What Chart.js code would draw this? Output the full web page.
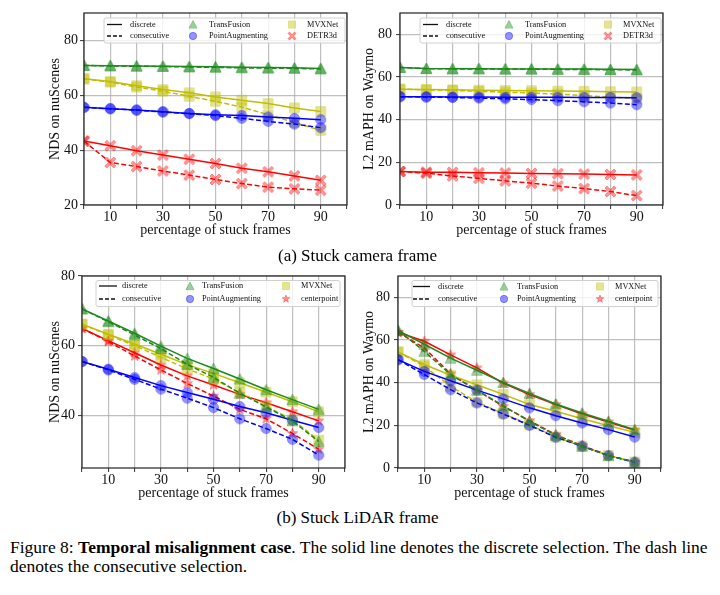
<!DOCTYPE html>
<html>
<head>
<meta charset="utf-8">
<script src="https://cdn.jsdelivr.net/npm/chart.js@4.4.1/dist/chart.umd.min.js"></script>
<style>
body { margin: 0; background: #fff; width: 720px; height: 595px; position: relative; overflow: hidden; font-family: 'Liberation Serif', 'Times New Roman', serif; }
canvas { position: absolute; }
.cap { position: absolute; font-size: 17px; line-height: 19px; color: #000; white-space: nowrap; }
</style>
</head>
<body>
<canvas id="camNus" width="320" height="245" style="left:40px;top:0px"></canvas>
<canvas id="camWaymo" width="320" height="245" style="left:358px;top:0px"></canvas>
<canvas id="lidarNus" width="320" height="246" style="left:38px;top:262px"></canvas>
<canvas id="lidarWaymo" width="320" height="246" style="left:356px;top:262px"></canvas>
<div class="cap" style="left:0;width:715px;text-align:center;top:246px">(a) Stuck camera frame</div>
<div class="cap" style="left:0;width:715px;text-align:center;top:508px">(b) Stuck LiDAR frame</div>
<div class="cap" style="left:10px;top:538px;font-size:17.5px">Figure 8: <b>Temporal misalignment case</b>. The solid line denotes the discrete selection. The dash line<br>denotes the consecutive selection.</div>
<script>
// valeurs
const frames = [0, 10, 20, 30, 40, 50, 60, 70, 80, 90];
const xGridTicks = [0, 10, 20, 30, 40, 50, 60, 70, 80, 90, 100];
const xTickLabels = [10, 30, 50, 70, 90];

// (a) stuck camera frame - NDS nuScenes
const camNusTFDisc = [70.9, 70.8, 70.7, 70.6, 70.5, 70.4, 70.2, 70.1, 70.0, 69.8];
const camNusTFCons = [70.9, 70.7, 70.6, 70.5, 70.3, 70.2, 70.0, 69.9, 69.8, 69.6];
const camNusPADisc = [55.6, 55.1, 54.6, 54.0, 53.4, 52.9, 52.6, 52.1, 51.6, 51.1];
const camNusPACons = [55.6, 55.1, 54.6, 53.9, 53.3, 52.6, 51.6, 50.5, 49.5, 48.2];
const camNusMVXDisc = [66.0, 65.0, 63.5, 62.1, 60.9, 59.4, 58.2, 57.0, 55.4, 54.1];
const camNusMVXCons = [66.0, 64.8, 63.0, 61.5, 59.6, 57.8, 55.7, 52.9, 50.1, 47.2];
const camNusDETRDisc = [43.3, 41.6, 39.8, 38.2, 36.7, 35.1, 33.4, 32.1, 30.6, 29.0];
const camNusDETRCons = [43.3, 35.5, 34.0, 32.4, 30.9, 29.3, 27.8, 26.5, 25.9, 25.4];

// (a) stuck camera frame - L2 mAPH Waymo
const camWayTFDisc = [64.5, 64.0, 63.9, 63.9, 63.8, 63.8, 63.7, 63.7, 63.6, 63.5];
const camWayTFCons = [64.5, 63.9, 63.8, 63.8, 63.7, 63.7, 63.6, 63.5, 63.4, 63.3];
const camWayPADisc = [50.8, 50.7, 50.6, 50.6, 50.5, 50.5, 50.5, 50.4, 50.4, 50.3];
const camWayPACons = [50.8, 50.6, 50.4, 50.1, 49.8, 49.4, 48.9, 48.4, 47.8, 47.0];
const camWayMVXDisc = [54.3, 54.1, 54.0, 53.8, 53.7, 53.6, 53.4, 53.3, 53.1, 53.0];
const camWayMVXCons = [54.3, 54.0, 53.7, 53.3, 52.9, 52.5, 52.0, 51.3, 50.6, 49.8];
const camWayDETRDisc = [15.7, 15.4, 15.3, 15.1, 15.0, 14.8, 14.7, 14.5, 14.3, 14.1];
const camWayDETRCons = [15.7, 14.9, 13.6, 12.5, 11.3, 10.2, 8.9, 7.7, 6.3, 4.4];

// (b) stuck LiDAR frame - NDS nuScenes
const lidNusTFDisc = [70.6, 67.1, 63.6, 59.9, 56.4, 53.5, 50.5, 47.4, 44.6, 41.8];
const lidNusTFCons = [70.6, 66.9, 63.1, 59.2, 54.7, 51.0, 46.4, 42.5, 38.5, 32.6];
const lidNusPADisc = [55.5, 53.3, 50.9, 48.6, 46.6, 44.7, 42.6, 40.8, 38.7, 36.6];
const lidNusPACons = [55.5, 53.1, 50.4, 47.6, 45.0, 42.3, 39.1, 36.3, 33.2, 28.7];
const lidNusMVXDisc = [66.2, 63.3, 60.5, 57.6, 54.6, 52.1, 49.4, 46.7, 44.0, 41.1];
const lidNusMVXCons = [66.2, 63.1, 60.1, 56.7, 53.4, 50.5, 46.6, 42.7, 38.8, 33.0];
const lidNusCPDisc = [65.0, 61.5, 58.0, 54.5, 51.4, 48.8, 46.1, 43.7, 41.1, 38.5];
const lidNusCPCons = [65.0, 61.2, 57.1, 53.1, 49.2, 45.6, 41.8, 39.1, 34.9, 30.4];

// (b) stuck LiDAR frame - L2 mAPH Waymo
const lidWayTFDisc = [64.5, 58.0, 51.5, 45.8, 40.1, 35.0, 30.0, 25.8, 21.9, 18.0];
const lidWayTFCons = [64.5, 54.7, 43.8, 36.4, 29.2, 21.9, 15.3, 10.2, 5.8, 2.8];
const lidWayPADisc = [50.8, 45.3, 40.9, 36.5, 32.4, 28.2, 24.5, 21.1, 18.0, 14.5];
const lidWayPACons = [50.8, 43.8, 36.7, 30.5, 25.3, 20.0, 14.4, 10.2, 5.8, 2.7];
const lidWayMVXDisc = [54.4, 48.5, 43.5, 39.0, 34.5, 29.8, 26.6, 23.1, 19.8, 16.7];
const lidWayMVXCons = [54.4, 47.7, 38.3, 30.9, 25.5, 20.3, 14.5, 10.2, 5.9, 2.8];
const lidWayCPDisc = [63.6, 59.4, 53.0, 46.9, 39.8, 34.4, 29.7, 25.3, 21.6, 17.7];
const lidWayCPCons = [63.6, 56.3, 44.1, 36.4, 28.9, 22.2, 15.6, 10.5, 5.9, 2.8];

const SERIF = "'Liberation Serif', 'Times New Roman', serif";
const GREEN = '#1a8a1a', BLUE = '#0000ff', YELLOW = '#bfbf00', RED = '#ff0000';

function rgba(hex, a) {
    const n = parseInt(hex.slice(1), 16);
    return `rgba(${n >> 16},${(n >> 8) & 255},${n & 255},${a})`;
}

// marqueurs dessinés à la main (triangle, rond, carré, X plein, étoile)
function makeMarker(shape, color, size) {
    const c = document.createElement('canvas');
    const s = Math.ceil(size) + 2;
    c.width = s; c.height = s;
    const g = c.getContext('2d');
    const cx = s / 2, cy = s / 2, r = size / 2;
    g.beginPath();
    if (shape === 'triangle') {
        g.moveTo(cx, cy - r);
        g.lineTo(cx + r, cy + r * 0.9);
        g.lineTo(cx - r, cy + r * 0.9);
        g.closePath();
    } else if (shape === 'circle') {
        g.arc(cx, cy, r * 0.92, 0, Math.PI * 2);
    } else if (shape === 'square') {
        g.rect(cx - r * 0.88, cy - r * 0.88, r * 1.76, r * 1.76);
    } else if (shape === 'xfill') {
        const t = r * 0.36;
        const pts = [[0, t], [r - t, r], [r, r - t], [t, 0], [r, -r + t], [r - t, -r], [0, -t], [-r + t, -r], [-r, -r + t], [-t, 0], [-r, r - t], [-r + t, r]];
        pts.forEach((p, i) => i ? g.lineTo(cx + p[0], cy + p[1]) : g.moveTo(cx + p[0], cy + p[1]));
        g.closePath();
    } else if (shape === 'star') {
        for (let i = 0; i < 10; i++) {
            const rr = i % 2 ? r * 0.42 : r;
            const a = -Math.PI / 2 + i * Math.PI / 5;
            const px = cx + rr * Math.cos(a), py = cy + rr * Math.sin(a);
            i ? g.lineTo(px, py) : g.moveTo(px, py);
        }
        g.closePath();
    }
    g.fillStyle = rgba(color, 0.42);
    g.fill();
    g.strokeStyle = rgba(color, 0.35);
    g.lineWidth = 1;
    g.stroke();
    return c;
}

function series(vals, color, shape, dashed) {
    return {
        data: frames.map((f, i) => ({ x: f, y: vals[i] })),
        borderColor: color,
        borderWidth: 1.5,
        borderDash: dashed ? [5, 2.5] : [],
        pointStyle: makeMarker(shape, color, 11),
        pointRadius: 5,
        fill: false,
        tension: 0
    };
}

// cadre noir autour de la zone de tracé
const framePlugin = {
    id: 'frame',
    afterDatasetsDraw(chart) {
        const a = chart.chartArea, ctx = chart.ctx;
        ctx.save();
        ctx.strokeStyle = '#222';
        ctx.lineWidth = 1.2;
        ctx.strokeRect(a.left, a.top, a.right - a.left, a.bottom - a.top);
        ctx.restore();
    }
};

// légende façon matplotlib, 3 colonnes x 2 lignes
const legendPlugin = {
    id: 'figLegend',
    afterDraw(chart, args, opts) {
        if (!opts.items) return;
        const a = chart.chartArea, ctx = chart.ctx, L = opts.box;
        ctx.save();
        const bx = a.left + L.x, by = a.top + L.y;
        ctx.beginPath();
        ctx.roundRect(bx, by, L.w, L.h, 2);
        ctx.fillStyle = 'rgba(255,255,255,0.8)';
        ctx.fill();
        ctx.strokeStyle = '#d0d0d0';
        ctx.lineWidth = 1;
        ctx.stroke();
        ctx.font = '8.3px ' + SERIF;
        ctx.fillStyle = '#111';
        ctx.textBaseline = 'middle';
        ctx.textAlign = 'left';
        // colonne 1 : styles de ligne
        ['discrete', 'consecutive'].forEach((t, r) => {
            const y = a.top + L.rows[r];
            ctx.beginPath();
            ctx.setLineDash(r ? [4, 2] : []);
            ctx.strokeStyle = '#111';
            ctx.lineWidth = 1.3;
            ctx.moveTo(a.left + L.line[0], y);
            ctx.lineTo(a.left + L.line[1], y);
            ctx.stroke();
            ctx.setLineDash([]);
            ctx.fillText(t, a.left + L.text[0], y);
        });
        // colonnes 2 et 3 : méthodes
        opts.items.forEach((it, k) => {
            const col = k < 2 ? 1 : 2, r = k % 2;
            const y = a.top + L.rows[r];
            const m = makeMarker(it.shape, it.color, 8);
            ctx.drawImage(m, a.left + L.mark[col - 1] - m.width / 2, y - m.height / 2);
            ctx.fillText(it.name, a.left + L.text[col], y);
        });
        ctx.restore();
    }
};

function makeChart(id, geo, datasets, yMin, yMax, yTicks, yTitle, items, box) {
    const tickFont = { family: SERIF, size: 14 };
    new Chart(document.getElementById(id), {
        type: 'line',
        data: { datasets: datasets },
        options: {
            responsive: false,
            animation: false,
            layout: { padding: { left: 0, top: geo.padTop, right: geo.padRight, bottom: 0 } },
            plugins: {
                legend: { display: false },
                tooltip: { enabled: false },
                figLegend: { items: items, box: box }
            },
            scales: {
                x: {
                    type: 'linear', min: 0, max: 100,
                    afterBuildTicks: s => { s.ticks = xGridTicks.map(v => ({ value: v })); },
                    afterFit: s => { s.height = geo.xH; },
                    ticks: {
                        autoSkip: false, maxRotation: 0, padding: 0, color: '#111', font: tickFont,
                        callback: v => xTickLabels.includes(v) ? String(v) : ''
                    },
                    grid: { color: 'rgba(170,170,170,0.75)', lineWidth: 1.2, tickLength: 4, tickColor: '#333', tickWidth: 1 },
                    border: { display: false },
                    title: { display: true, text: 'percentage of stuck frames', color: '#111', font: tickFont, padding: { top: 0, bottom: 6.5 } }
                },
                y: {
                    type: 'linear', min: yMin, max: yMax,
                    afterBuildTicks: s => { s.ticks = yTicks.map(v => ({ value: v })); },
                    afterFit: s => { s.width = geo.yW; },
                    ticks: { padding: geo.yPad, color: '#111', font: tickFont },
                    grid: { color: 'rgba(170,170,170,0.75)', lineWidth: 1.2, tickLength: 4, tickColor: '#333', tickWidth: 1 },
                    border: { display: false },
                    title: { display: true, text: yTitle, color: '#111', font: tickFont, padding: { top: geo.yTitlePad, bottom: 0 } }
                }
            }
        },
        plugins: [framePlugin, legendPlugin]
    });
}

const camItems = [
    { name: 'TransFusion', shape: 'triangle', color: GREEN },
    { name: 'PointAugmenting', shape: 'circle', color: BLUE },
    { name: 'MVXNet', shape: 'square', color: YELLOW },
    { name: 'DETR3d', shape: 'xfill', color: RED }
];
const lidItems = [
    { name: 'TransFusion', shape: 'triangle', color: GREEN },
    { name: 'PointAugmenting', shape: 'circle', color: BLUE },
    { name: 'MVXNet', shape: 'square', color: YELLOW },
    { name: 'centerpoint', shape: 'star', color: RED }
];
const topBox = { x: 20, y: 5, w: 241, h: 25, rows: [11.5, 23], line: [23, 38], text: [46, 125, 223], mark: [109, 208] };
const lidBoxL = { x: 14, y: 4.5, w: 244, h: 26, rows: [10, 23], line: [17, 35], text: [40, 120, 219], mark: [108, 204] };
const lidBoxR = { x: 14, y: 4.5, w: 246, h: 26, rows: [10.5, 23], line: [15, 32], text: [40, 119, 217], mark: [106, 202] };

makeChart('camNus', { padTop: 13, padRight: 13, yW: 44, xH: 40, yPad: 2, yTitlePad: 7 }, [
    series(camNusTFDisc, GREEN, 'triangle', false), series(camNusTFCons, GREEN, 'triangle', true),
    series(camNusPADisc, BLUE, 'circle', false), series(camNusPACons, BLUE, 'circle', true),
    series(camNusMVXDisc, YELLOW, 'square', false), series(camNusMVXCons, YELLOW, 'square', true),
    series(camNusDETRDisc, RED, 'xfill', false), series(camNusDETRCons, RED, 'xfill', true)
], 20, 90, [20, 40, 60, 80], 'NDS on nuScenes', camItems, topBox);

makeChart('camWaymo', { padTop: 13, padRight: 15, yW: 42, xH: 40, yPad: 4, yTitlePad: 2.5 }, [
    series(camWayTFDisc, GREEN, 'triangle', false), series(camWayTFCons, GREEN, 'triangle', true),
    series(camWayPADisc, BLUE, 'circle', false), series(camWayPACons, BLUE, 'circle', true),
    series(camWayMVXDisc, YELLOW, 'square', false), series(camWayMVXCons, YELLOW, 'square', true),
    series(camWayDETRDisc, RED, 'xfill', false), series(camWayDETRCons, RED, 'xfill', true)
], 0, 90, [0, 20, 40, 60, 80], 'L2 mAPH on Waymo', camItems, topBox);

makeChart('lidarNus', { padTop: 14, padRight: 13, yW: 44, xH: 40, yPad: 3, yTitlePad: 8.5 }, [
    series(lidNusTFDisc, GREEN, 'triangle', false), series(lidNusTFCons, GREEN, 'triangle', true),
    series(lidNusPADisc, BLUE, 'circle', false), series(lidNusPACons, BLUE, 'circle', true),
    series(lidNusMVXDisc, YELLOW, 'square', false), series(lidNusMVXCons, YELLOW, 'square', true),
    series(lidNusCPDisc, RED, 'star', false), series(lidNusCPCons, RED, 'star', true)
], 25, 80, [40, 60, 80], 'NDS on nuScenes', lidItems, lidBoxL);

makeChart('lidarWaymo', { padTop: 14, padRight: 15, yW: 42, xH: 40, yPad: 4, yTitlePad: 4.5 }, [
    series(lidWayTFDisc, GREEN, 'triangle', false), series(lidWayTFCons, GREEN, 'triangle', true),
    series(lidWayPADisc, BLUE, 'circle', false), series(lidWayPACons, BLUE, 'circle', true),
    series(lidWayMVXDisc, YELLOW, 'square', false), series(lidWayMVXCons, YELLOW, 'square', true),
    series(lidWayCPDisc, RED, 'star', false), series(lidWayCPCons, RED, 'star', true)
], 0, 90, [0, 20, 40, 60, 80], 'L2 mAPH on Waymo', lidItems, lidBoxR);
</script>
</body>
</html>
